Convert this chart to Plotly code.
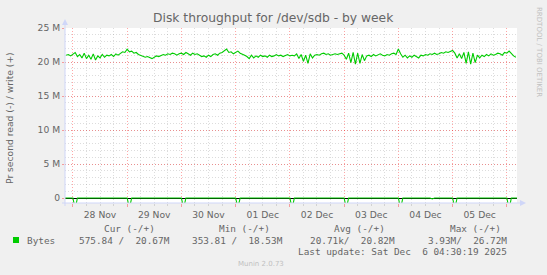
import plotly.graph_objects as go
import pandas as pd

# ---------------- data ----------------
title_text = "Disk throughput for /dev/sdb - by week"
y_title = "Pr second read (-) / write (+)"

write_start = "2025-11-27 21:00"   # hourly samples, values in M bytes/s
write_M = [
    21.0, 21.1, 20.9, 21.2, 21.4, 20.8, 21.1, 20.6, 21.3, 20.5,
    21.0, 20.4, 21.2, 20.3, 20.9, 20.6, 21.1, 20.7, 21.0, 20.9,
    21.1, 20.8, 21.2, 21.0, 21.3, 21.5, 21.4, 21.9, 21.5, 21.6,
    21.3, 21.4, 21.1, 21.0, 20.9, 20.7, 20.8, 20.6, 20.5, 20.7,
    20.9, 20.8, 21.0, 21.1, 21.0, 21.2, 21.1, 21.3, 21.2, 21.0,
    21.2, 21.3, 21.1, 21.4, 21.2, 21.0, 21.3, 21.1, 21.2, 21.0,
    20.8, 20.9, 20.7, 21.0, 20.8, 21.1, 21.2, 21.0, 21.3, 21.4,
    21.6, 21.9, 21.4, 21.5, 21.2, 21.4, 21.6, 21.3, 21.2, 21.0,
    20.8, 20.5, 21.0, 20.6, 20.9, 20.7, 21.0, 20.8, 20.9, 20.7,
    21.0, 20.8, 20.9, 21.1, 20.9, 21.0, 20.8, 21.0, 21.1, 20.9,
    21.0, 20.9, 21.2, 20.5, 21.1, 20.1, 21.0, 19.8, 21.2, 20.6,
    21.0, 21.1, 21.0, 21.2, 21.3, 21.1, 21.2, 21.0, 21.1, 21.2,
    21.1, 21.2, 21.3, 21.0, 20.4, 21.3, 19.9, 21.4, 19.7, 21.3,
    19.8, 21.1, 20.2, 20.9, 21.0, 20.8, 21.1, 20.9, 21.0, 21.2,
    21.0, 20.9, 21.1, 21.0, 21.2, 21.3, 21.1, 21.9, 21.2, 20.7,
    21.0, 20.6, 20.9, 20.7, 21.0, 20.8, 20.6, 21.0, 20.9, 21.1,
    21.0, 21.2, 21.1, 21.3, 21.1, 21.2, 21.4, 21.3, 21.5, 21.4,
    21.6, 21.7, 21.3, 20.6, 21.2, 20.5, 21.4, 19.8, 21.5, 19.7,
    21.3, 19.9, 21.0, 20.6, 21.0, 20.8, 21.1, 20.9, 21.2, 21.0,
    21.1, 21.3, 21.2, 21.0, 21.4, 21.3, 21.6, 21.2, 20.9, 20.7,
]

read_spike_times = [
    "2025-11-28 01:00", "2025-11-29 01:00", "2025-11-30 01:00",
    "2025-12-01 01:00", "2025-12-02 01:00", "2025-12-03 01:00",
    "2025-12-04 01:00", "2025-12-04 15:00", "2025-12-05 01:00",
    "2025-12-06 01:00",
]
read_spike_M = [-1.6, -1.5, -1.5, -1.4, -1.5, -1.5, -1.5, -0.15, -1.5, -1.6]

x_start = "2025-11-27 20:30"
x_end = "2025-12-06 04:30"

y_tickvals = [0, 5, 10, 15, 20, 25]
y_ticktext = ["0", "5 M", "10 M", "15 M", "20 M", "25 M"]
y_min = -0.735
y_max = 25

legend_name = "Bytes"
legend_headers = ["Cur (-/+)", "Min (-/+)", "Avg (-/+)", "Max (-/+)"]
legend_values = ["575.84 /  20.67M", "353.81 /  18.53M", "20.71k/  20.82M", "3.93M/  26.72M"]
last_update = "Last update: Sat Dec  6 04:30:19 2025"
footer = "Munin 2.0.73"
watermark = "RRDTOOL / TOBI OETIKER"

# ---------------- colours / fonts ----------------
GREEN = "#00CC00"
FONT_C = "#666666"
AXIS_C = "#CFD6F8"
MGRID = "rgba(255,0,0,0.35)"
GRID = "rgba(150,150,150,0.33)"
SANS = "DejaVu Sans"
MONO = "DejaVu Sans Mono"

# ---------------- geometry (pixels) ----------------
W_IMG, H_IMG = 547, 275
L, R, T, B = 65, 517, 28, 203
PW, PH = R - L, B - T


def px(x):
    return (x - L) / PW


def py(y):
    return (B - y) / PH


def nb(s):
    return s.replace(" ", "\u00a0")


# ---------------- series ----------------
write_t = pd.date_range(write_start, periods=len(write_M), freq="h")

read_t, read_v = [pd.Timestamp(x_start)], [0.0]
for t, v in zip(read_spike_times, read_spike_M):
    ts = pd.Timestamp(t)
    read_t += [ts - pd.Timedelta(hours=1), ts, ts + pd.Timedelta(hours=1)]
    read_v += [0.0, v, 0.0]
read_t.append(pd.Timestamp(x_end))
read_v.append(0.0)

fig = go.Figure()
fig.add_trace(go.Scatter(x=read_t, y=read_v, mode="lines",
                         line=dict(color=GREEN, width=1.1), showlegend=False,
                         hoverinfo="skip"))
fig.add_trace(go.Scatter(x=write_t, y=write_M, mode="lines",
                         line=dict(color=GREEN, width=1.1), showlegend=False,
                         hoverinfo="skip"))

fig.update_layout(
    width=W_IMG, height=H_IMG,
    margin=dict(l=L, r=W_IMG - R, t=T, b=H_IMG - B, pad=0),
    paper_bgcolor="#F0F0F0", plot_bgcolor="#FFFFFF",
    font=dict(family=SANS, color=FONT_C, size=9.2),
    showlegend=False,
)

fig.update_xaxes(
    type="date", range=[x_start, x_end],
    tick0="2025-11-28", dtick=86400000, tickformat="%d %b",
    ticklabelmode="period",
    showgrid=True, gridcolor=MGRID, griddash="1px,2px", gridwidth=1,
    ticks="outside", ticklen=3, tickcolor=MGRID,
    minor=dict(dtick=6 * 3600 * 1000, showgrid=True, gridcolor=GRID,
               griddash="1px,2px", ticks="outside", ticklen=2, tickcolor=GRID),
    showline=False, zeroline=False,
    tickfont=dict(family=SANS, size=9.2, color=FONT_C),
)

fig.update_yaxes(
    range=[y_min, y_max], tickvals=y_tickvals, ticktext=y_ticktext,
    showgrid=True, gridcolor=MGRID, griddash="1px,2px", gridwidth=1,
    ticks="outside", ticklen=2, tickcolor=MGRID,
    minor=dict(dtick=1, showgrid=True, gridcolor=GRID, griddash="1px,2px"),
    zeroline=True, zerolinecolor="#000000", zerolinewidth=1,
    showline=False,
    tickfont=dict(family=SANS, size=9.2, color=FONT_C),
)

shapes = []
# axis lines with arrows
shapes.append(dict(type="line", xref="paper", yref="paper",
                   x0=px(L), x1=px(L), y0=py(B + 3), y1=py(T - 5),
                   line=dict(color=AXIS_C, width=1)))
shapes.append(dict(type="path", xref="paper", yref="paper",
                   path=f"M {px(L-3)},{py(T-3)} L {px(L+3)},{py(T-3)} L {px(L)},{py(T-9)} Z",
                   fillcolor=AXIS_C, line=dict(width=0)))
shapes.append(dict(type="line", xref="paper", yref="paper",
                   x0=px(L - 3), x1=px(R + 4), y0=0, y1=0,
                   line=dict(color=AXIS_C, width=1)))
shapes.append(dict(type="path", xref="paper", yref="paper",
                   path=f"M {px(R+3)},{py(B-3)} L {px(R+3)},{py(B+3)} L {px(R+9)},{py(B)} Z",
                   fillcolor=AXIS_C, line=dict(width=0)))
# legend swatch
shapes.append(dict(type="rect", xref="paper", yref="paper",
                   x0=px(13), x1=px(19), y0=py(243), y1=py(237),
                   fillcolor=GREEN, line=dict(width=0)))
fig.update_layout(shapes=shapes)

ann = []
# title
ann.append(dict(text=title_text, xref="paper", yref="paper",
                x=px(W_IMG / 2), y=py(18), xanchor="center", yanchor="middle",
                showarrow=False, font=dict(family=SANS, size=12.3, color=FONT_C)))
# y title
ann.append(dict(text=y_title, xref="paper", yref="paper", textangle=-90,
                x=px(10), y=py(118), xanchor="center", yanchor="middle",
                showarrow=False, font=dict(family=SANS, size=9.2, color=FONT_C)))
# watermark
ann.append(dict(text=watermark, xref="paper", yref="paper", textangle=90,
                x=px(539), y=py(5), xanchor="center", yanchor="top",
                showarrow=False, font=dict(family=SANS, size=7, color="#C0C0C0")))
# legend header row
for txt, xr in zip(legend_headers, [157, 272, 387, 503]):
    ann.append(dict(text=nb(txt), xref="paper", yref="paper",
                    x=px(xr), y=py(228), xanchor="right", yanchor="middle",
                    showarrow=False, font=dict(family=MONO, size=9.4, color=FONT_C)))
ann.append(dict(text=legend_name, xref="paper", yref="paper",
                x=px(25), y=py(240), xanchor="left", yanchor="middle",
                showarrow=False, font=dict(family=MONO, size=9.4, color=FONT_C)))
for txt, xr in zip(legend_values, [172, 285, 397, 509]):
    ann.append(dict(text=nb(txt), xref="paper", yref="paper",
                    x=px(xr), y=py(240), xanchor="right", yanchor="middle",
                    showarrow=False, font=dict(family=MONO, size=9.4, color=FONT_C)))
ann.append(dict(text=nb(last_update), xref="paper", yref="paper",
                x=px(509), y=py(251.5), xanchor="right", yanchor="middle",
                showarrow=False, font=dict(family=MONO, size=9.4, color=FONT_C)))
ann.append(dict(text=footer, xref="paper", yref="paper",
                x=px(261), y=py(264), xanchor="center", yanchor="middle",
                showarrow=False, font=dict(family=SANS, size=7, color="#C0C0C0")))
fig.update_layout(annotations=ann)

fig.write_html("out.html")
